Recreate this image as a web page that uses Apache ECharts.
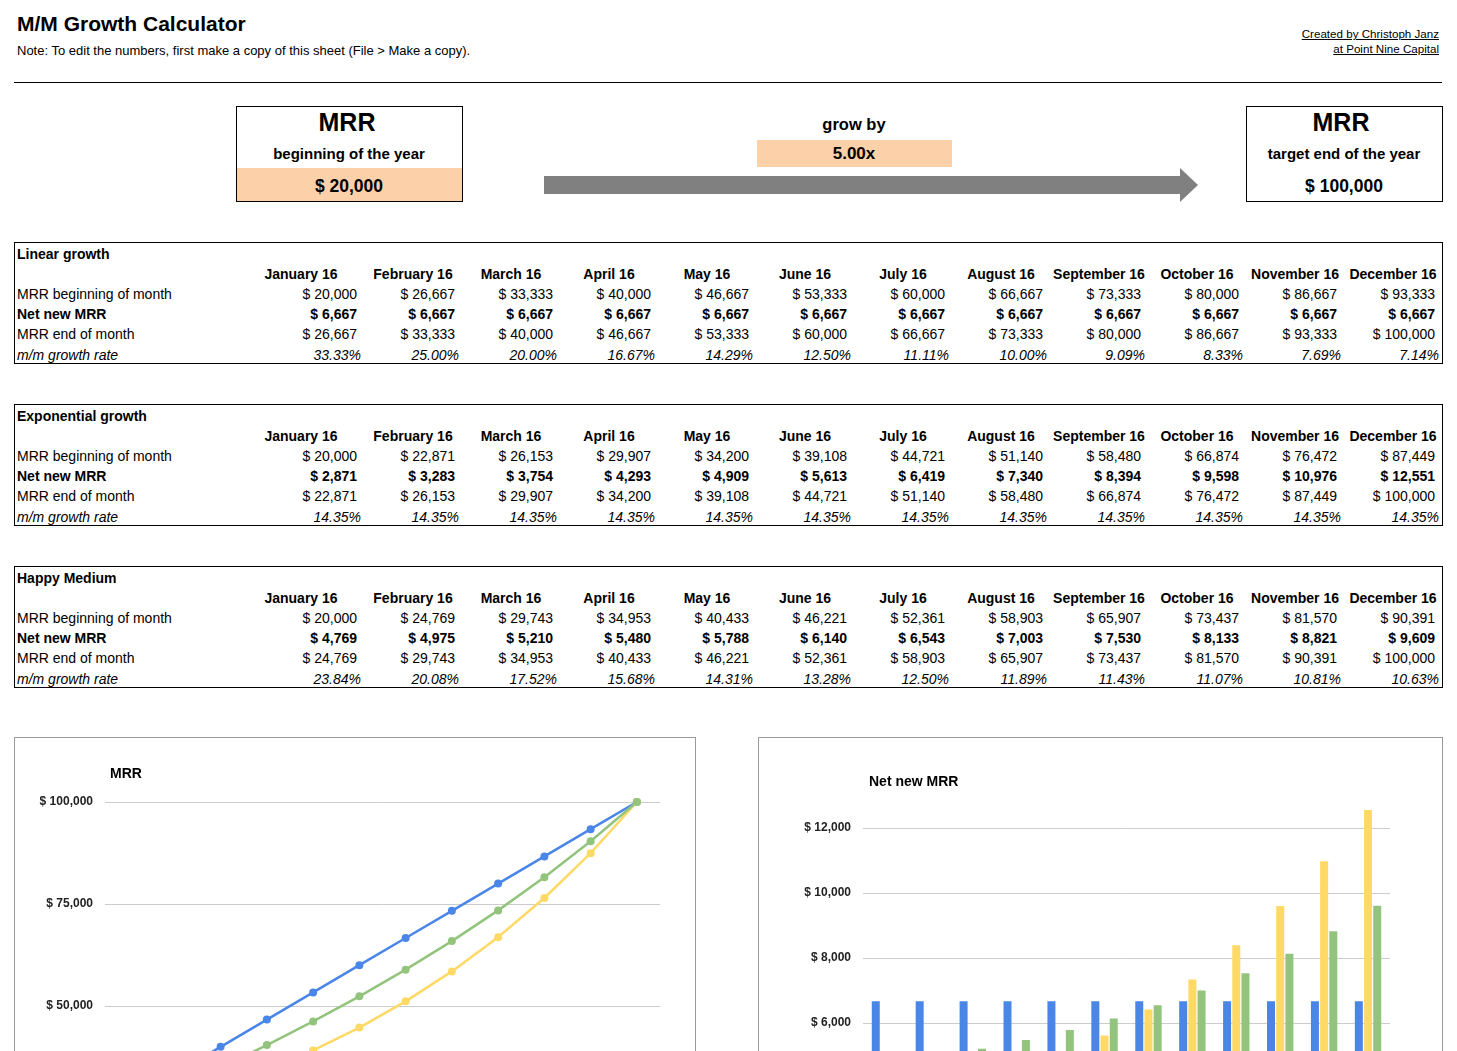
<!DOCTYPE html>
<html><head><meta charset="utf-8">
<script src="https://cdn.jsdelivr.net/npm/echarts@6/dist/echarts.min.js"></script>
<style>
body{margin:0;background:#fff;font-family:"Liberation Sans",Arial,sans-serif;color:#000;width:1457px;height:1051px;overflow:hidden;position:relative}
.a{position:absolute;white-space:nowrap}
.b{font-weight:bold}
.box{position:absolute;border:1px solid #000;box-sizing:border-box}
</style></head><body>
<div id="root"></div>
<script>
const months=["January 16","February 16","March 16","April 16","May 16","June 16","July 16","August 16","September 16","October 16","November 16","December 16"];
const rowLabels=["MRR beginning of month","Net new MRR","MRR end of month","m/m growth rate"];
const linBegin=[20000,26667,33333,40000,46667,53333,60000,66667,73333,80000,86667,93333];
const linNew=[6667,6667,6667,6667,6667,6667,6667,6667,6667,6667,6667,6667];
const linEnd=[26667,33333,40000,46667,53333,60000,66667,73333,80000,86667,93333,100000];
const linRate=["33.33%","25.00%","20.00%","16.67%","14.29%","12.50%","11.11%","10.00%","9.09%","8.33%","7.69%","7.14%"];
const expBegin=[20000,22871,26153,29907,34200,39108,44721,51140,58480,66874,76472,87449];
const expNew=[2871,3283,3754,4293,4909,5613,6419,7340,8394,9598,10976,12551];
const expEnd=[22871,26153,29907,34200,39108,44721,51140,58480,66874,76472,87449,100000];
const expRate=["14.35%","14.35%","14.35%","14.35%","14.35%","14.35%","14.35%","14.35%","14.35%","14.35%","14.35%","14.35%"];
const hapBegin=[20000,24769,29743,34953,40433,46221,52361,58903,65907,73437,81570,90391];
const hapNew=[4769,4975,5210,5480,5788,6140,6543,7003,7530,8133,8821,9609];
const hapEnd=[24769,29743,34953,40433,46221,52361,58903,65907,73437,81570,90391,100000];
const hapRate=["23.84%","20.08%","17.52%","15.68%","14.31%","13.28%","12.50%","11.89%","11.43%","11.07%","10.81%","10.63%"];
const sectionTitles=["Linear growth","Exponential growth","Happy Medium"];
const chartYTicksMRR=["$ 0","$ 25,000","$ 50,000","$ 75,000","$ 100,000"];

const root=document.getElementById('root');
function t(x,y,s,st){const d=document.createElement('div');d.className='a';d.style.cssText=`left:${x}px;top:${y}px;`+(st||'');d.textContent=s;root.appendChild(d);return d;}
function r(x,y,s,st){const d=t(0,y,s,st);d.style.left='auto';d.style.right=(1457-x)+'px';return d;}
function c(x,y,s,st){const d=t(x,y,s,st);d.style.transform='translateX(-50%)';return d;}
function box(x,y,w,h,st){const d=document.createElement('div');d.className='box';d.style.cssText=`left:${x}px;top:${y}px;width:${w}px;height:${h}px;`+(st||'');root.appendChild(d);return d;}
const fmt=v=>'$ '+v.toLocaleString('en-US');

t(17,12,'M/M Growth Calculator','font-size:21px;font-weight:bold');
t(17,43,'Note: To edit the numbers, first make a copy of this sheet (File > Make a copy).','font-size:13px');
r(1439,27,'Created by Christoph Janz','font-size:11.6px;text-decoration:underline');
r(1439,42,'at Point Nine Capital','font-size:11.6px;text-decoration:underline');
box(14,82,1428,1,'border:none;background:#000');

box(236,106,227,96);
box(237,168,225,33,'border:none;background:#fcd0a8');
c(347,108,'MRR','font-size:25px;font-weight:bold');
c(349,145,'beginning of the year','font-size:15px;font-weight:bold');
c(349,176,'$ 20,000','font-size:17.5px;font-weight:bold');
c(854,115,'grow by','font-size:16.5px;font-weight:bold');
box(757,140,195,27,'border:none;background:#fcd0a8');
c(854,144,'5.00x','font-size:17px;font-weight:bold');
box(544,176,637,18,'border:none;background:#808080');
const ar=document.createElement('div');ar.className='a';ar.style.cssText='left:1180px;top:168px;width:0;height:0;border-top:17px solid transparent;border-bottom:17px solid transparent;border-left:18px solid #808080';root.appendChild(ar);
box(1246,106,197,96);
c(1341,108,'MRR','font-size:25px;font-weight:bold');
c(1344,145,'target end of the year','font-size:15px;font-weight:bold');
c(1344,176,'$ 100,000','font-size:17.5px;font-weight:bold');

const sections=[[linBegin,linNew,linEnd,linRate],[expBegin,expNew,expEnd,expRate],[hapBegin,hapNew,hapEnd,hapRate]];
sections.forEach((sec,si)=>{
  const y0=242+si*162;
  box(14,y0,1429,122);
  t(17,y0+4,sectionTitles[si],'font-size:14px;font-weight:bold');
  rowLabels.forEach((lb,ri)=>t(17,y0+44+ri*20+(ri==3?1:0),lb,'font-size:14px;'+(ri==1?'font-weight:bold;':'')+(ri==3?'font-style:italic;':'')));
  months.forEach((m,mi)=>{
    const right=357+mi*98;
    c(right-42-(mi==0?14:0),y0+24,m,'font-size:14px;font-weight:bold');
    r(right,y0+44,fmt(sec[0][mi]),'font-size:14px');
    r(right,y0+64,fmt(sec[1][mi]),'font-size:14px;font-weight:bold');
    r(right,y0+84,fmt(sec[2][mi]),'font-size:14px');
    r(right+4,y0+105,sec[3][mi],'font-size:14px;font-style:italic');
  });
});

box(14,737,682,400,'border-color:#999');
box(758,737,685,400,'border-color:#999');
const d1=document.createElement('div');d1.className='a';d1.style.cssText='left:15px;top:738px;width:680px;height:500px';root.appendChild(d1);
const d2=document.createElement('div');d2.className='a';d2.style.cssText='left:759px;top:738px;width:683px;height:500px';root.appendChild(d2);
const colors=['#4a86e8','#ffd966','#93c47d'];
const axisLbl={color:'#222',fontWeight:'bold',fontSize:12,fontFamily:'Liberation Sans'};
const ch1=echarts.init(d1,null,{renderer:'canvas'});
ch1.setOption({animation:false,
 title:{text:'MRR',left:90,top:24,textStyle:{fontSize:14,fontWeight:'bold',fontFamily:'Liberation Sans',color:'#000'}},
 grid:{left:90,right:35,top:64,bottom:28},
 xAxis:{type:'category',data:months,axisLine:{show:false},axisTick:{show:false},axisLabel:{show:false}},
 yAxis:{type:'value',min:0,max:100000,interval:25000,axisLabel:Object.assign({formatter:(v,i)=>chartYTicksMRR[i],margin:12},axisLbl),splitLine:{lineStyle:{color:'#ccc'}}},
 series:[[linEnd,colors[0]],[expEnd,colors[1]],[hapEnd,colors[2]]].map(([d,col])=>({type:'line',data:d,symbol:'circle',symbolSize:8,lineStyle:{width:2.5,color:col},itemStyle:{color:col}}))
});
const ch2=echarts.init(d2,null,{renderer:'canvas'});
ch2.setOption({animation:false,
 title:{text:'Net new MRR',left:105,top:32,textStyle:{fontSize:14,fontWeight:'bold',fontFamily:'Liberation Sans',color:'#000'}},
 grid:{left:104,right:52,top:57.5,bottom:20},
 xAxis:{type:'category',data:months,axisLine:{show:false},axisTick:{show:false},axisLabel:{show:false}},
 yAxis:{type:'value',min:0,max:13000,interval:2000,axisLabel:Object.assign({formatter:v=>fmt(v),showMaxLabel:false,margin:12},axisLbl),splitLine:{showMaxLine:false,lineStyle:{color:'#ccc'}}},
 series:[[linNew,colors[0]],[expNew,colors[1]],[hapNew,colors[2]]].map(([d,col])=>({type:'bar',data:d,barWidth:8,barGap:'15%',itemStyle:{color:col}}))
});
</script></body></html>
